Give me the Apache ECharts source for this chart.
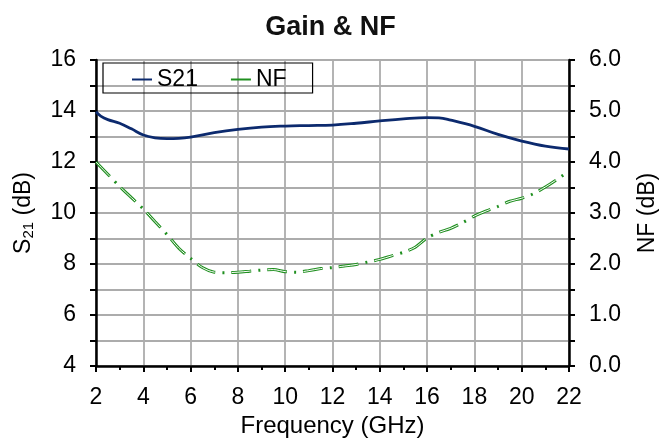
<!DOCTYPE html>
<html><head><meta charset="utf-8">
<script src="https://cdn.jsdelivr.net/npm/echarts@6/dist/echarts.min.js"></script>
<style>html,body{margin:0;padding:0;background:#fff}#c{width:661px;height:439px}</style>
</head><body><div id="c"></div>
<script>
const freqS21 = [2,2.2,2.5,3,3.5,4,4.5,5,5.5,6,7,8,9,10,11,12,13,14,15,16,16.5,17,18,19,20,21,22];
const s21 = [13.97,13.80,13.66,13.52,13.30,13.06,12.95,12.92,12.93,12.98,13.15,13.28,13.37,13.41,13.43,13.45,13.52,13.61,13.69,13.74,13.73,13.64,13.40,13.08,12.82,12.62,12.51];
const freqNF = [2,2.5,3,3.5,4,4.5,5,5.5,6,6.5,7,7.5,8,8.5,9,9.5,10,10.5,11,11.5,12,12.5,13,13.5,14,14.5,15,15.5,16,16.5,17,17.5,18,18.5,19,19.5,20,20.5,21,21.5,22];
const nf = [4.0,3.76,3.52,3.30,3.08,2.83,2.58,2.31,2.11,1.93,1.84,1.83,1.84,1.86,1.88,1.89,1.85,1.84,1.87,1.91,1.93,1.96,1.99,2.04,2.09,2.16,2.23,2.33,2.51,2.62,2.70,2.81,2.94,3.04,3.13,3.23,3.29,3.38,3.51,3.66,3.82];
const title = 'Gain & NF';
const xName = 'Frequency (GHz)';

const F = 'Liberation Sans, Arial, sans-serif';
const FS = 23;
const chart = echarts.init(document.getElementById('c'));
const pair = (xs, ys) => xs.map((x, i) => [x, ys[i]]);
chart.setOption({
  animation: false,
  title: { text: title, left: 'center', top: 9, textStyle: { fontFamily: F, fontSize: 27, fontWeight: 'bold', color: '#111' } },
  legend: {
    data: ['S21', 'NF'], left: 103, top: 63, padding: [5, 26, 2, 28],
    borderColor: '#000', borderWidth: 1.2, borderRadius: 0, itemWidth: 20, itemHeight: 2, itemGap: 32,
    itemStyle: { opacity: 0 },
    textStyle: { fontFamily: F, fontSize: FS, color: '#000' }
  },
  grid: { left: 96, right: 92, top: 60, bottom: 73, outerBoundsMode: 'none', containLabel: false, show: true, borderColor: '#000', borderWidth: 1.5 },
  xAxis: {
    type: 'value', min: 2, max: 22, interval: 2,
    name: xName, nameLocation: 'middle', nameGap: 42,
    nameTextStyle: { fontFamily: F, fontSize: 24, color: '#000' },
    axisLine: { lineStyle: { color: '#000', width: 2.5 } },
    axisTick: { length: 6, lineStyle: { color: '#000', width: 2 } },
    minorTick: { show: true, splitNumber: 2, length: 4, lineStyle: { color: '#000', width: 2 } },
    axisLabel: { fontFamily: F, fontSize: FS, color: '#000', margin: 20 },
    splitLine: { show: true, lineStyle: { color: '#acacac', width: 1.8 } }
  },
  yAxis: [{
    type: 'value', min: 4, max: 16, interval: 2, position: 'left',
    name: 'S{sub|21} (dB)', nameLocation: 'middle', nameGap: 60, nameRotate: 90,
    nameTextStyle: { fontFamily: F, fontSize: FS, color: '#000', rich: { sub: { fontFamily: F, fontSize: 15, color: '#000', verticalAlign: 'bottom', padding: [10, 0, 0, 0] } } },
    axisLine: { show: true, lineStyle: { color: '#000', width: 2.5 } },
    axisTick: { show: true, length: 6, lineStyle: { color: '#000', width: 2 } },
    minorTick: { show: true, splitNumber: 2, length: 6, lineStyle: { color: '#000', width: 2 } },
    axisLabel: { fontFamily: F, fontSize: FS, color: '#000', margin: 20 },
    splitLine: { show: true, lineStyle: { color: '#acacac', width: 1.8 } },
    minorSplitLine: { show: true, lineStyle: { color: '#acacac', width: 1.8 } }
  }, {
    type: 'value', min: 0, max: 6, interval: 1, position: 'right',
    name: 'NF (dB)', nameLocation: 'middle', nameGap: 67, nameRotate: 90,
    nameTextStyle: { fontFamily: F, fontSize: FS, color: '#000' },
    axisLine: { show: true, lineStyle: { color: '#000', width: 2.5 } },
    axisTick: { show: true, length: 6, lineStyle: { color: '#000', width: 2 } },
    minorTick: { show: true, splitNumber: 2, length: 6, lineStyle: { color: '#000', width: 2 } },
    axisLabel: { fontFamily: F, fontSize: FS, color: '#000', margin: 20, formatter: v => v.toFixed(1) },
    splitLine: { show: false }
  }],
  series: [{
    name: 'S21', type: 'line', yAxisIndex: 0, data: pair(freqS21, s21), smooth: 0.4,
    showSymbol: false, symbol: 'none', lineStyle: { color: '#0c2a6e', width: 2.8 }, itemStyle: { color: '#0c2a6e' }
  }, {
    name: 'NF', type: 'line', yAxisIndex: 1, data: pair(freqNF, nf), smooth: 0.3,
    showSymbol: false, symbol: 'none', lineStyle: { color: '#1f8f1f', width: 3, type: [20, 7, 2, 7], cap: 'butt' }, itemStyle: { color: '#1f8f1f' }
  }, {
    name: 'NF_inner', type: 'line', yAxisIndex: 1, data: pair(freqNF, nf), smooth: 0.3, silent: true,
    showSymbol: false, symbol: 'none', lineStyle: { color: '#ffffff', width: 1, type: [19, 17], dashOffset: -0.5, cap: 'butt' }
  }]
});
</script></body></html>
